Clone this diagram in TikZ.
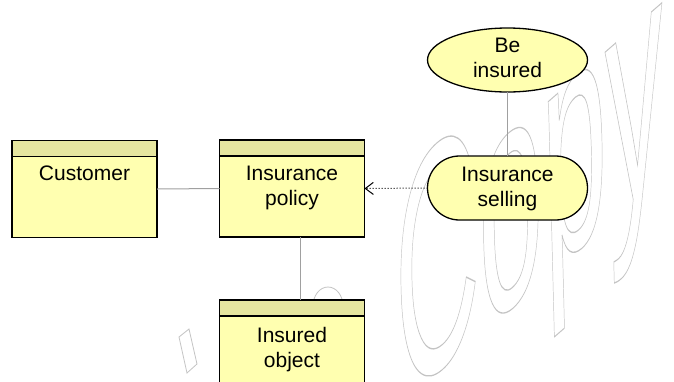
\documentclass[tikz,border=0pt]{standalone}
\usepackage{fontspec}
\setmainfont{Liberation Sans}
\usetikzlibrary{shapes.geometric,arrows.meta,calc}
\definecolor{boxfill}{HTML}{FFFFB0}
\definecolor{headfill}{HTML}{E6E6A0}
\definecolor{connline}{HTML}{A0A0A0}
\definecolor{wmgray}{HTML}{C4C4C4}
\tikzset{
  classbox/.style={rectangle, draw=black, line width=1.3pt, fill=boxfill,
    minimum width=145pt, minimum height=97pt, inner sep=0pt, outer sep=0pt},
  headband/.style={draw=black, line width=1.3pt, fill=headfill},
  lbl/.style={font=\fontsize{21}{25}\selectfont, align=center, inner sep=0pt, anchor=north},
  conn/.style={draw=connline, line width=1pt},
  dep/.style={draw=black, line width=1pt, dash pattern=on 1pt off 2pt,
    -{Straight Barb[length=8pt,width=12pt,line width=1pt]}},
  usecase/.style={ellipse, draw=black, line width=1.3pt, fill=boxfill,
    minimum width=160pt, minimum height=64pt, inner sep=0pt, outer sep=0pt},
  process/.style={rectangle, rounded corners=32pt, draw=black, line width=1.3pt, fill=boxfill,
    minimum width=160pt, minimum height=64pt, inner sep=0pt, outer sep=0pt},
  wmline/.style={draw=wmgray, line width=0.8pt}
}
\begin{document}
\begin{tikzpicture}[x=1pt,y=-1pt]
\useasboundingbox (0,0) rectangle (674,381);
\fill[white] (0,0) rectangle (674,381);
% watermark
\begin{scope}[cm={1.15,1.0,-0.08,3.2,(398pt,-405pt)}]
  \node[anchor=base west, inner sep=0pt, outer sep=0pt, transform shape, text=wmgray,
        font=\fontsize{100}{100}\selectfont] (wm) at (0,0)
        {\special{pdf:literal direct 1 Tr 0.4 w}Copy\special{pdf:literal direct 0 Tr}};
\end{scope}
\draw[wmline] (179,337) -- (189,329) -- (197,364) -- (187,373) -- cycle;
\draw[wmline] (328,306) ellipse [x radius=15, y radius=19];
% classes
\node[classbox] (cust) at (84.5,189) {};
\draw[headband] (cust.north west) rectangle ($(cust.north east)+(0,16)$);
\node[lbl] (custT) at (84.5,166) {Customer};
\node[classbox] (pol) at (292,188.5) {};
\draw[headband] (pol.north west) rectangle ($(pol.north east)+(0,16)$);
\node[lbl] (polT) at (292,166) {Insurance\\policy};
\node[classbox] (obj) at (292,348.5) {};
\draw[headband] (obj.north west) rectangle ($(obj.north east)+(0,16)$);
\node[lbl] (objT) at (292,327) {Insured\\object};
% use case and process
\node[usecase] (be) at (507.5,60) {};
\node[lbl] (beT) at (507.5,38) {Be\\insured};
\node[process] (sell) at (507.5,188) {};
\node[lbl] (sellT) at (507.5,167) {Insurance\\selling};
% connectors
\draw[conn] (cust.east) -- (pol.west);
\draw[conn] ([xshift=8pt]pol.south) -- ([xshift=8pt]obj.north);
\draw[conn] (be.south) -- (sell.north);
\draw[dep] (sell.west) -- (pol.east);
\end{tikzpicture}
\end{document}
